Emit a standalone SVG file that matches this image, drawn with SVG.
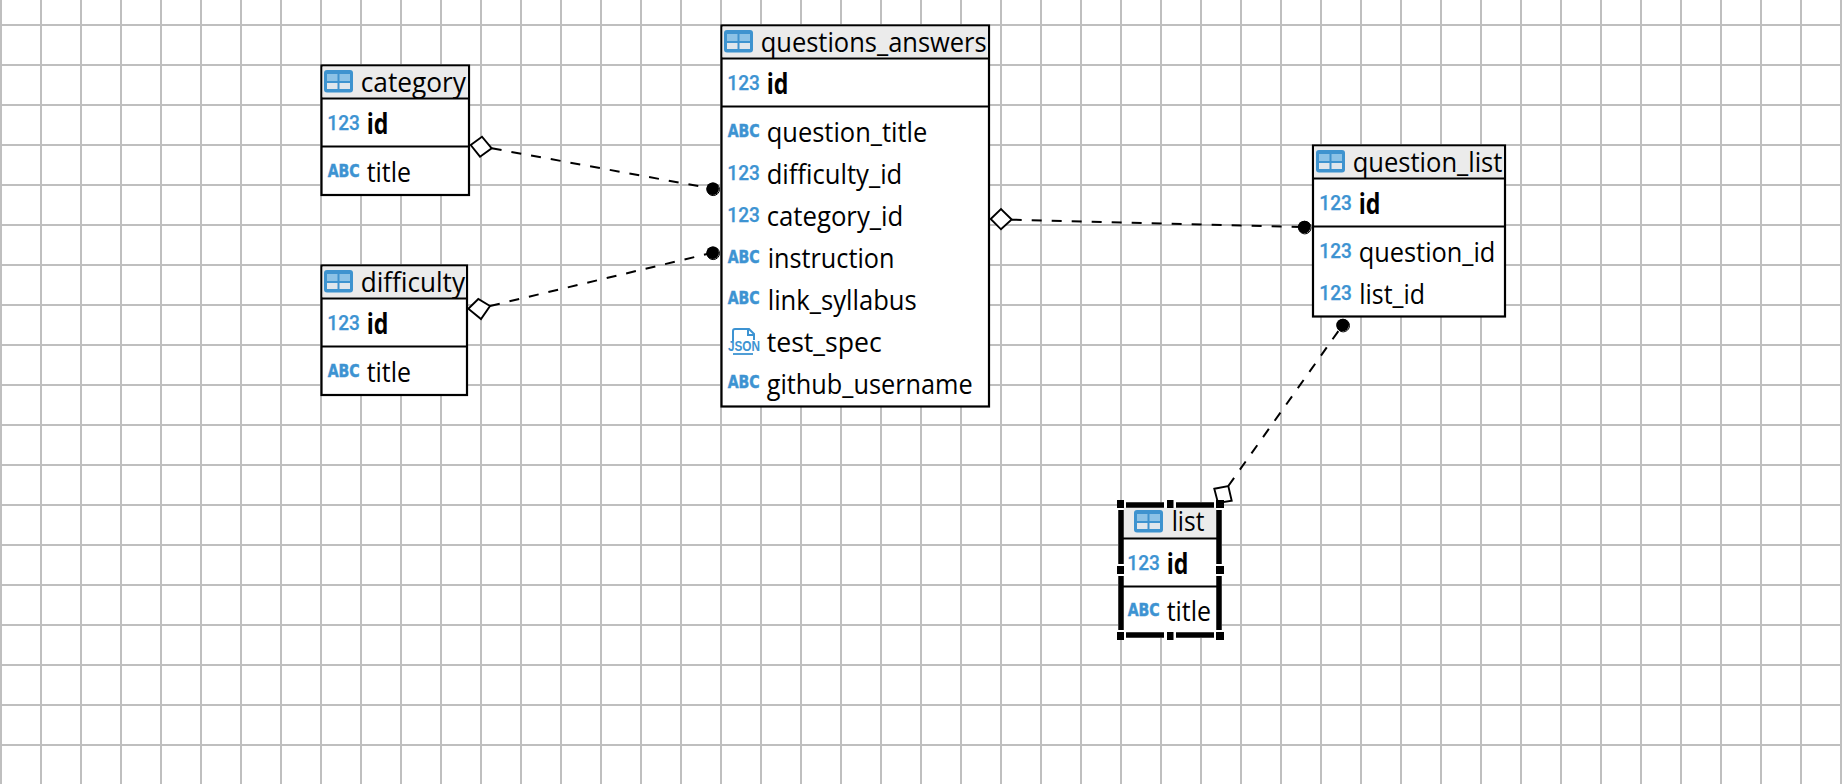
<svg xmlns="http://www.w3.org/2000/svg" width="1842" height="784" viewBox="0 0 1842 784">
<style>
.t{font-family:"Open Sans","Noto Sans","Liberation Sans",sans-serif;font-size:26.5px;fill:#000}
.b{font-weight:700;font-size:28px}
.n{font-family:"Roboto","Liberation Sans",sans-serif;font-size:20.5px;font-weight:500;fill:#3d93d2;stroke:#3d93d2;stroke-width:.25}
.a{font-family:"DejaVu Sans","Liberation Sans",sans-serif;font-size:17.5px;font-weight:700;fill:#3d93d2;stroke:#3d93d2;stroke-width:.5}
.j{font-family:"Liberation Sans",sans-serif;font-size:14px;font-weight:700;fill:#3d93d2}
.box{fill:#fff;stroke:#000;stroke-width:2.2}
.hd{fill:#ebebeb}
.ln{stroke:#000;stroke-width:2}
.cn{stroke:#000;stroke-width:2;stroke-dasharray:10 10;fill:none}
.dm{fill:#fff;stroke:#000;stroke-width:1.9}
.dt{fill:#000}
.dr{fill:none;stroke:#000;stroke-width:1}
</style>
<defs>
<pattern id="grid" patternUnits="userSpaceOnUse" x="0" y="24" width="40" height="40">
<rect x="0" y="0" width="2" height="40" fill="#bfbfbf"/>
<rect x="0" y="0" width="40" height="2" fill="#bfbfbf"/>
</pattern>
<g id="tbl">
<rect x="0" y="0" width="29" height="22.5" rx="3" fill="#3e93cf"/>
<rect x="3" y="4" width="10.5" height="7" fill="#8cc2e6"/>
<rect x="15.5" y="4" width="10.5" height="7" fill="#8cc2e6"/>
<rect x="3" y="13" width="10.5" height="6" fill="#e0e6ec"/>
<rect x="15.5" y="13" width="10.5" height="6" fill="#e0e6ec"/>
</g>
</defs>
<rect width="1842" height="784" fill="#fff"/>
<rect width="1842" height="784" fill="url(#grid)"/>

<g id="connectors">
<line class="cn" x1="491.7" y1="148.3" x2="712.7" y2="188.7"/>
<polygon class="dm" points="470.7,145 482,136.7 491.7,148.3 480,156.7"/>
<circle class="dt" cx="712.7" cy="188.7" r="6.3"/><circle class="dr" cx="713.2" cy="189.3" r="6.3"/>
<line class="cn" x1="490" y1="306" x2="712.7" y2="252.7"/>
<polygon class="dm" points="468.3,308.7 478.3,299 490,306 481,319"/>
<circle class="dt" cx="712.7" cy="252.7" r="6.3"/><circle class="dr" cx="713.2" cy="253.3" r="6.3"/>
<line class="cn" x1="1011.7" y1="219.7" x2="1304.3" y2="227"/>
<polygon class="dm" points="990.7,219 1001,209 1011.7,219.5 1001,229.3"/>
<circle class="dt" cx="1304.3" cy="227" r="6.3"/><circle class="dr" cx="1304.8" cy="227.6" r="6.3"/>
<line class="cn" x1="1228.3" y1="486" x2="1342.7" y2="325"/>
<polygon class="dm" points="1214.3,488.7 1228.3,486 1231.7,500.7 1218,503"/>
<circle class="dt" cx="1342.7" cy="325" r="6.3"/><circle class="dr" cx="1343.2" cy="325.6" r="6.3"/>
</g>

<g id="category">
<rect class="box" x="321.5" y="65.5" width="147.5" height="129.5"/>
<rect class="hd" x="322.5" y="66.5" width="145.5" height="31"/>
<line class="ln" x1="322" y1="98.5" x2="468" y2="98.5"/>
<line class="ln" x1="322" y1="146.5" x2="468" y2="146.5"/>
<use href="#tbl" x="324" y="70"/>
<text class="t" x="360.7" y="92" textLength="105.3" lengthAdjust="spacingAndGlyphs">category</text>
<text class="n" x="327.3" y="130" textLength="32.5" lengthAdjust="spacingAndGlyphs">123</text>
<text class="t b" x="366.7" y="133.5" textLength="21.7" lengthAdjust="spacingAndGlyphs">id</text>
<text class="a" x="327.7" y="176.7" textLength="32" lengthAdjust="spacingAndGlyphs">ABC</text>
<text class="t" x="366.7" y="181.7" textLength="44.3" lengthAdjust="spacingAndGlyphs">title</text>
</g>

<g id="difficulty">
<rect class="box" x="321.5" y="265.5" width="145.5" height="129.5"/>
<rect class="hd" x="322.5" y="266.5" width="143.5" height="31"/>
<line class="ln" x1="322" y1="298.5" x2="466" y2="298.5"/>
<line class="ln" x1="322" y1="346.5" x2="466" y2="346.5"/>
<use href="#tbl" x="324" y="270"/>
<text class="t" x="360.7" y="292" textLength="104.3" lengthAdjust="spacingAndGlyphs">difficulty</text>
<text class="n" x="327.3" y="330" textLength="32.5" lengthAdjust="spacingAndGlyphs">123</text>
<text class="t b" x="366.7" y="333.5" textLength="21.7" lengthAdjust="spacingAndGlyphs">id</text>
<text class="a" x="327.7" y="376.7" textLength="32" lengthAdjust="spacingAndGlyphs">ABC</text>
<text class="t" x="366.7" y="381.7" textLength="44.3" lengthAdjust="spacingAndGlyphs">title</text>
</g>

<g id="questions_answers">
<rect class="box" x="721.5" y="25.5" width="267.5" height="381"/>
<rect class="hd" x="722.5" y="26.5" width="265.5" height="31"/>
<line class="ln" x1="722" y1="58.5" x2="988" y2="58.5"/>
<line class="ln" x1="722" y1="106.5" x2="988" y2="106.5"/>
<use href="#tbl" x="724" y="30"/>
<text class="t" x="760.7" y="52" textLength="226" lengthAdjust="spacingAndGlyphs">questions_answers</text>
<text class="n" x="727.3" y="90" textLength="32.5" lengthAdjust="spacingAndGlyphs">123</text>
<text class="t b" x="766.7" y="93.5" textLength="21.7" lengthAdjust="spacingAndGlyphs">id</text>
<text class="a" x="727.7" y="136.7" textLength="32" lengthAdjust="spacingAndGlyphs">ABC</text>
<text class="t" x="766.7" y="141.7" textLength="160.6" lengthAdjust="spacingAndGlyphs">question_title</text>
<text class="n" x="727.3" y="180" textLength="32.5" lengthAdjust="spacingAndGlyphs">123</text>
<text class="t" x="766.7" y="183.7" textLength="135.6" lengthAdjust="spacingAndGlyphs">difficulty_id</text>
<text class="n" x="727.3" y="222" textLength="32.5" lengthAdjust="spacingAndGlyphs">123</text>
<text class="t" x="766.7" y="225.7" textLength="136.6" lengthAdjust="spacingAndGlyphs">category_id</text>
<text class="a" x="727.7" y="262.7" textLength="32" lengthAdjust="spacingAndGlyphs">ABC</text>
<text class="t" x="767.7" y="267.7" textLength="126.7" lengthAdjust="spacingAndGlyphs">instruction</text>
<text class="a" x="727.7" y="304" textLength="32" lengthAdjust="spacingAndGlyphs">ABC</text>
<text class="t" x="767.7" y="310" textLength="149" lengthAdjust="spacingAndGlyphs">link_syllabus</text>
<path d="M733 341V331Q733 329 735 329H749L754 334V340M748 329V335H754" fill="none" stroke="#3d93d2" stroke-width="2"/>
<line x1="733" y1="354" x2="753" y2="354" stroke="#3d93d2" stroke-width="1.8"/>
<text class="j" x="728" y="351" textLength="32" lengthAdjust="spacingAndGlyphs">JSON</text>
<text class="t" x="766.7" y="351.7" textLength="115" lengthAdjust="spacingAndGlyphs">test_spec</text>
<text class="a" x="727.7" y="388.3" textLength="32" lengthAdjust="spacingAndGlyphs">ABC</text>
<text class="t" x="766.7" y="393.7" textLength="206" lengthAdjust="spacingAndGlyphs">github_username</text>
</g>

<g id="question_list">
<rect class="box" x="1313" y="145.5" width="192" height="171"/>
<rect class="hd" x="1314" y="146.5" width="190" height="31"/>
<line class="ln" x1="1314" y1="178.5" x2="1504" y2="178.5"/>
<line class="ln" x1="1314" y1="226.5" x2="1504" y2="226.5"/>
<use href="#tbl" x="1316" y="150"/>
<text class="t" x="1352.7" y="171.7" textLength="149.7" lengthAdjust="spacingAndGlyphs">question_list</text>
<text class="n" x="1319.3" y="210" textLength="32.5" lengthAdjust="spacingAndGlyphs">123</text>
<text class="t b" x="1358.7" y="213.5" textLength="21.7" lengthAdjust="spacingAndGlyphs">id</text>
<text class="n" x="1319.3" y="258" textLength="32.5" lengthAdjust="spacingAndGlyphs">123</text>
<text class="t" x="1358.7" y="261.7" textLength="136.7" lengthAdjust="spacingAndGlyphs">question_id</text>
<text class="n" x="1319.3" y="300" textLength="32.5" lengthAdjust="spacingAndGlyphs">123</text>
<text class="t" x="1359.3" y="303.7" textLength="65.7" lengthAdjust="spacingAndGlyphs">list_id</text>
</g>

<g id="list">
<rect x="1118" y="502" width="104" height="136" fill="#fff"/>
<rect class="hd" x="1123.5" y="507.5" width="93" height="30.5"/>
<line class="ln" x1="1123" y1="538.5" x2="1217" y2="538.5"/>
<line class="ln" x1="1123" y1="586.5" x2="1217" y2="586.5"/>
<use href="#tbl" x="1134" y="510"/>
<text class="t" x="1171.7" y="531" textLength="32.7" lengthAdjust="spacingAndGlyphs">list</text>
<text class="n" x="1127.3" y="570" textLength="32.5" lengthAdjust="spacingAndGlyphs">123</text>
<text class="t b" x="1166.7" y="573.5" textLength="21.7" lengthAdjust="spacingAndGlyphs">id</text>
<text class="a" x="1127.7" y="616" textLength="32" lengthAdjust="spacingAndGlyphs">ABC</text>
<text class="t" x="1166.7" y="620.7" textLength="44.3" lengthAdjust="spacingAndGlyphs">title</text>
<path d="M1126 505H1164M1176 505H1214M1126 635H1164M1176 635H1214M1121 510V564M1121 576V630M1219 510V564M1219 576V630" stroke="#000" stroke-width="5.5" fill="none"/>
<path d="M1117 500h7v8h-7zM1167 500h6.5v8h-6.5zM1216 500h8v8h-8zM1117 566h7v8h-7zM1216 566h8v8h-8zM1117 632h7v8h-7zM1167 632h6.5v8h-6.5zM1216 632h8v8h-8z" fill="#000"/>
</g>
</svg>
